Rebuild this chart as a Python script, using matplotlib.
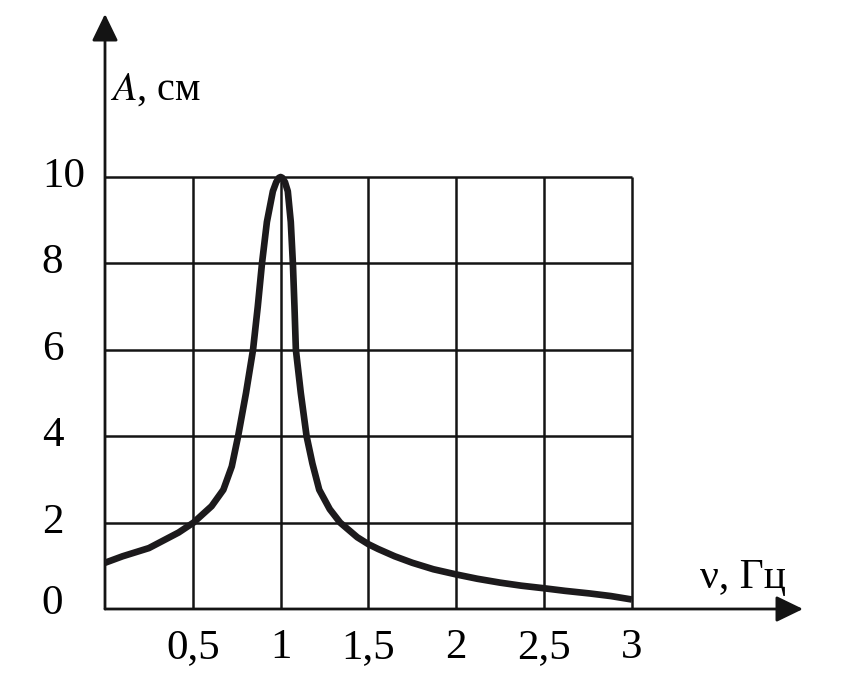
import matplotlib
matplotlib.use("Agg")
import matplotlib.pyplot as plt

# Data
nu = [0.0, 0.1, 0.25, 0.419, 0.504, 0.607, 0.674, 0.722, 0.758, 0.803, 0.843, 0.870, 0.894, 0.922,
      0.956, 0.975, 0.99, 1.0, 1.01, 1.025, 1.041, 1.058, 1.07, 1.079, 1.087, 1.115, 1.148, 1.181,
      1.22, 1.28, 1.339, 1.437, 1.5, 1.555, 1.65, 1.75, 1.87, 2.0, 2.12, 2.25, 2.37, 2.5, 2.62,
      2.76, 2.88, 3.0]
amp = [1.07, 1.22, 1.41, 1.77, 2.0, 2.38, 2.76, 3.3, 4.0, 5.0, 6.0, 7.0, 8.0, 8.96,
       9.67, 9.88, 9.98, 10.0, 9.98, 9.88, 9.67, 8.96, 8.0, 7.0, 6.0, 5.0, 4.0, 3.37,
       2.76, 2.31, 2.0, 1.66, 1.5, 1.39, 1.22, 1.07, 0.92, 0.8, 0.7, 0.61, 0.54, 0.48, 0.42,
       0.36, 0.3, 0.22]
x_ticks = [0.5, 1, 1.5, 2, 2.5, 3]
x_tick_labels = ["0,5", "1", "1,5", "2", "2,5", "3"]
y_ticks = [2, 4, 6, 8, 10]
y_tick_labels = ["2", "4", "6", "8", "10"]

W, H = 853, 685
fig = plt.figure(figsize=(W / 100, H / 100), dpi=100)
# pixel geometry
x0_px, y0_px = 105, 609
ux, uy = 175.6, 43.2
right_px, top_px = 803, 14
ax = fig.add_axes([x0_px / W, (H - y0_px) / H, (right_px - x0_px) / W, (y0_px - top_px) / H])
ax.set_xlim(0, (right_px - x0_px) / ux)
ax.set_ylim(0, (y0_px - top_px) / uy)
ax.axis("off")

serif = ["Liberation Serif", "DejaVu Serif"]
ink = "#141414"
grid_kw = dict(color=ink, lw=1.8, zorder=1, solid_capstyle="butt")
for xv in x_ticks:
    ax.plot([xv, xv], [0, 10], **grid_kw)
for yv in y_ticks:
    ax.plot([0, 3], [yv, yv], **grid_kw)

# axes with arrows
xmax, ymax = ax.get_xlim()[1], ax.get_ylim()[1]
astyle = "-|>,head_length=1.65,head_width=0.8"
ax.annotate("", xy=(xmax, 0), xytext=(0, 0),
            arrowprops=dict(arrowstyle=astyle, color=ink, lw=2.0, shrinkA=0, shrinkB=0),
            zorder=3, annotation_clip=False)
ax.annotate("", xy=(0, ymax), xytext=(0, 0),
            arrowprops=dict(arrowstyle=astyle, color=ink, lw=2.0, shrinkA=0, shrinkB=0),
            zorder=3, annotation_clip=False)

ax.plot(nu, amp, color="#1c1a1c", lw=4.8, solid_capstyle="butt", solid_joinstyle="round", zorder=4)

fs = 31
for xv, lab in zip(x_ticks, x_tick_labels):
    ax.text(xv, -1.13, lab, ha="center", va="baseline", fontsize=fs, family=serif)
for yv, lab in zip(y_ticks, y_tick_labels):
    ax.text(-0.36, yv - 0.23, lab, ha="left", va="baseline", fontsize=fs, family=serif)
ax.text(-0.36, -0.12, "0", ha="left", va="baseline", fontsize=fs, family=serif)

ax.text(0.03, 11.8, "$\\mathit{A}$, см", ha="left", va="baseline", fontsize=29, family=serif,
        math_fontfamily="stix")
ax.text(3.39, 0.49, "ν, Гц", ha="left", va="baseline", fontsize=30, family=serif)

fig.savefig("out.png", dpi=100, facecolor="white")
